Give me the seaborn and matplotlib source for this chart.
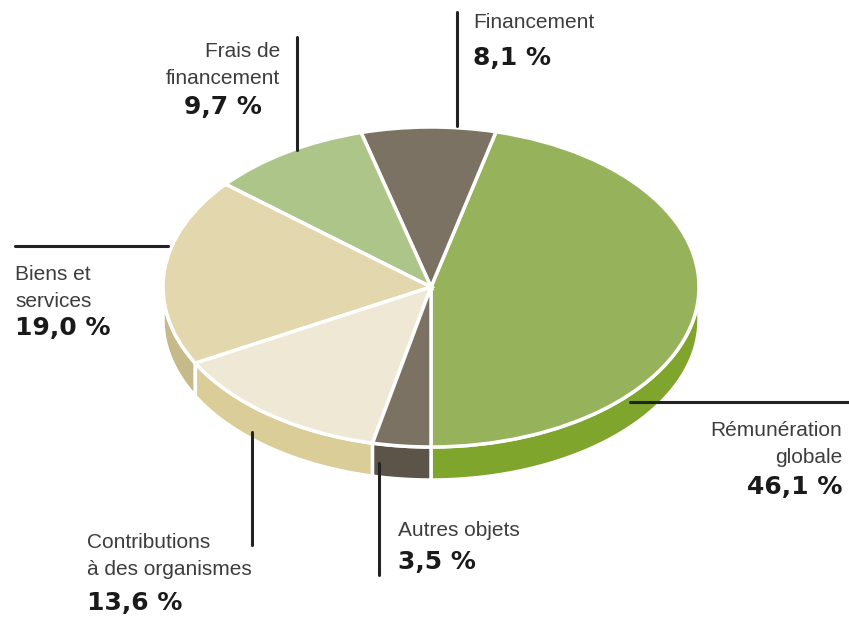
import numpy as np
import seaborn as sns
import matplotlib.pyplot as plt
from matplotlib.lines import Line2D

sns.set_theme(style="white")

# data, in pie order (counter-clockwise from the bottom)
categories = ["Rémunération\nglobale", "Financement", "Frais de\nfinancement",
              "Biens et\nservices", "Contributions\nà des organismes", "Autres objets"]
shares = [46.1, 8.1, 9.7, 19.0, 13.6, 3.5]

top_colors = ["#96b35c", "#7b7263", "#aec58a", "#e3d7ae", "#efe8d4", "#7b7263"]
side_colors = ["#7fa52c", "#5c5449", "#93ab6a", "#c6ba8a", "#dacd98", "#5c5449"]

# pixel geometry of the tilted pie
W, H = 849, 618
cx, cy, rx, ry = 431, 287, 268, 160
depth = 33 / ry

# label layout in pixels: line (x0, y0, x1, y1), name pos, value pos, align
layout = [
    dict(line=(630, 402, 849, 402), name=(842, 444), value=(842, 487), ha="right"),
    dict(line=(457, 12, 457, 126), name=(473, 22), value=(473, 58), ha="left"),
    dict(line=(297, 37, 297, 150), name=(280, 65), value=(262, 107), ha="right"),
    dict(line=(15, 246, 168, 246), name=(15, 288), value=(15, 328), ha="left"),
    dict(line=(252, 432, 252, 545), name=(87, 556), value=(87, 603), ha="left"),
    dict(line=(379, 463, 379, 575), name=(398, 530), value=(398, 562), ha="left"),
]

fig = plt.figure(figsize=(W / 100, H / 100), dpi=100)
ax = fig.add_axes([0, 0, 1, 1])

# sides of the pie: only the front half (angles -90..0 and 180..270) shows
bounds = -90 + np.concatenate([[0], np.cumsum(shares)]) / sum(shares) * 360
for i in range(len(shares)):
    a0, a1 = bounds[i], bounds[i + 1]
    for v0, v1 in [(-90, 0), (180, 270)]:
        lo, hi = max(a0, v0), min(a1, v1)
        if hi <= lo:
            continue
        t = np.radians(np.linspace(lo, hi, 60))
        xs = np.concatenate([np.cos(t), np.cos(t[::-1])])
        ys = np.concatenate([np.sin(t), np.sin(t[::-1]) - depth])
        ax.fill(xs, ys, color=side_colors[i], edgecolor="white", linewidth=2.5, zorder=1)

ax.pie(shares, colors=top_colors, startangle=-90, counterclock=True, radius=1,
       wedgeprops=dict(edgecolor="white", linewidth=2.5, zorder=2))

ax.set_aspect("auto")
ax.set_xlim(-cx / rx, (W - cx) / rx)
ax.set_ylim((cy - H) / ry, cy / ry)
ax.axis("off")

for cat, val, lay in zip(categories, shares, layout):
    x0, y0, x1, y1 = lay["line"]
    fig.add_artist(Line2D([x0 / W, x1 / W], [1 - y0 / H, 1 - y1 / H],
                          color="#222222", linewidth=2.2))
    nx, ny = lay["name"]
    fig.text(nx / W, 1 - ny / H, cat, ha=lay["ha"], va="center", fontsize=15,
             family="Liberation Sans", color="#3d3d3d", linespacing=1.5,
             multialignment=lay["ha"])
    vx, vy = lay["value"]
    label = f"{val:.1f}".replace(".", ",") + " %"
    fig.text(vx / W, 1 - vy / H, label, ha=lay["ha"], va="center", fontsize=18,
             family="DejaVu Sans", fontweight="bold", color="#1a1a1a")

fig.savefig("out.png", dpi=100)
